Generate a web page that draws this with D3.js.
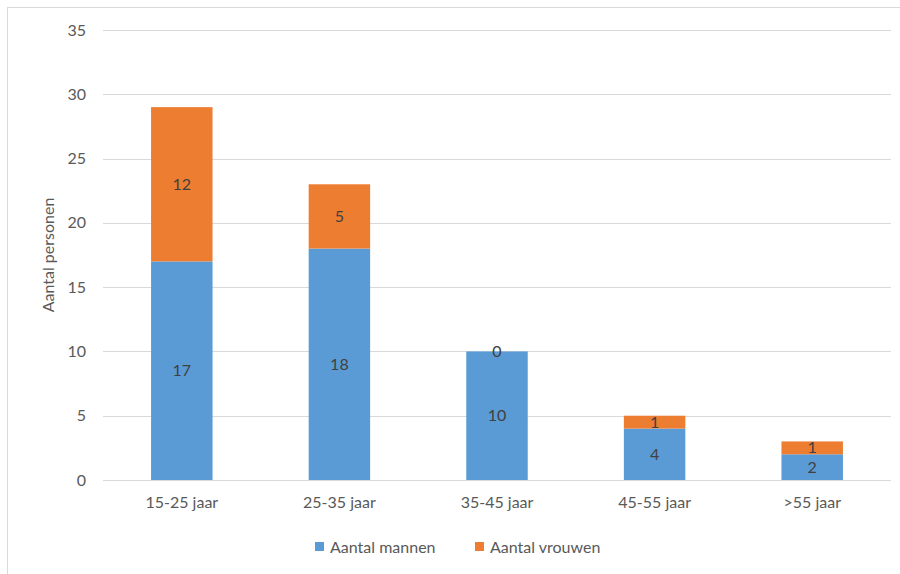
<!DOCTYPE html>
<html>
<head>
<meta charset="utf-8">
<script src="https://cdnjs.cloudflare.com/ajax/libs/d3/7.8.5/d3.min.js"></script>
<style>
  html, body { margin: 0; padding: 0; background: #fff; }
  svg { display: block; font-family: Lato, "Open Sans", sans-serif; }
</style>
</head>
<body>
<svg id="chart" width="900" height="574"></svg>
<script>
const categories = ["15-25 jaar", "25-35 jaar", "35-45 jaar", "45-55 jaar", ">55 jaar"];
const mannen = [17, 18, 10, 4, 2];
const vrouwen = [12, 5, 0, 1, 1];
const seriesNames = ["Aantal mannen", "Aantal vrouwen"];
const colors = ["#5b9bd5", "#ed7d31"];
const yTicks = [0, 5, 10, 15, 20, 25, 30, 35];

const svg = d3.select("#chart");
const margin = { left: 103, right: 9, top: 30, bottom: 94 };
const W = 900, H = 574;
const FS = "16px";

// outer frame
svg.append("rect").attr("x", 7.5).attr("y", 7.5).attr("width", 920).attr("height", 600)
  .attr("fill", "none").attr("stroke", "#d9d9d9").attr("stroke-width", 1);

const x = d3.scaleBand().domain(categories).range([margin.left, W - margin.right]).paddingInner(0.61).paddingOuter(0.305);
const y = d3.scaleLinear().domain([0, 35]).range([H - margin.bottom, margin.top]);

// gridlines
svg.append("g").selectAll("line").data(yTicks).join("line")
  .attr("x1", margin.left).attr("x2", W - margin.right)
  .attr("y1", d => Math.round(y(d)) + 0.5).attr("y2", d => Math.round(y(d)) + 0.5)
  .attr("stroke", "#d9d9d9").attr("stroke-width", 1);

// y axis labels
const yAxis = d3.axisLeft(y).tickValues(yTicks).tickSize(0).tickPadding(0);
const gy = svg.append("g").attr("transform", `translate(${margin.left - 17},0)`).call(yAxis);
gy.select(".domain").remove();
gy.selectAll("text").attr("fill", "#595959").style("font-size", FS).style("font-family", "Lato, 'Open Sans', sans-serif");

// stacked data
const data = categories.map((c, i) => ({ cat: c, m: mannen[i], v: vrouwen[i] }));
const stack = d3.stack().keys(["m", "v"]);
const stacked = stack(data);

const layers = svg.append("g").selectAll("g").data(stacked).join("g").attr("fill", (d, i) => colors[i]);
layers.selectAll("rect").data(d => d).join("rect")
  .attr("x", d => x(d.data.cat))
  .attr("width", x.bandwidth())
  .attr("y", d => y(d[1]))
  .attr("height", d => y(d[0]) - y(d[1]));

// data labels
const lbl = svg.append("g");
stacked.forEach(layer => {
  layer.forEach(d => {
    const val = d[1] - d[0];
    lbl.append("text")
      .attr("x", x(d.data.cat) + x.bandwidth() / 2)
      .attr("y", y((d[0] + d[1]) / 2))
      .attr("dy", "0.35em")
      .attr("text-anchor", "middle")
      .attr("fill", "#404040")
      .style("font-size", FS)
      .text(val);
  });
});

// x axis labels
const xAxis = d3.axisBottom(x).tickSize(0).tickPadding(0);
const gx = svg.append("g").attr("transform", `translate(0,${H - margin.bottom + 17})`).call(xAxis);
gx.select(".domain").remove();
gx.selectAll("text").attr("fill", "#595959").style("font-size", FS).style("font-family", "Lato, 'Open Sans', sans-serif");

// y axis title
svg.append("text")
  .attr("transform", `translate(54,${(y(0) + y(35)) / 2}) rotate(-90)`)
  .attr("text-anchor", "middle")
  .attr("fill", "#595959")
  .style("font-size", FS)
  .text("Aantal personen");

// legend
const legend = svg.append("g");
const legendX = [315, 475];
seriesNames.forEach((n, i) => {
  legend.append("rect").attr("x", legendX[i]).attr("y", 542).attr("width", 9).attr("height", 9).attr("fill", colors[i]);
  legend.append("text").attr("x", legendX[i] + 15).attr("y", 547).attr("dy", "0.35em")
    .attr("fill", "#595959").style("font-size", FS).text(n);
});
</script>
</body>
</html>
